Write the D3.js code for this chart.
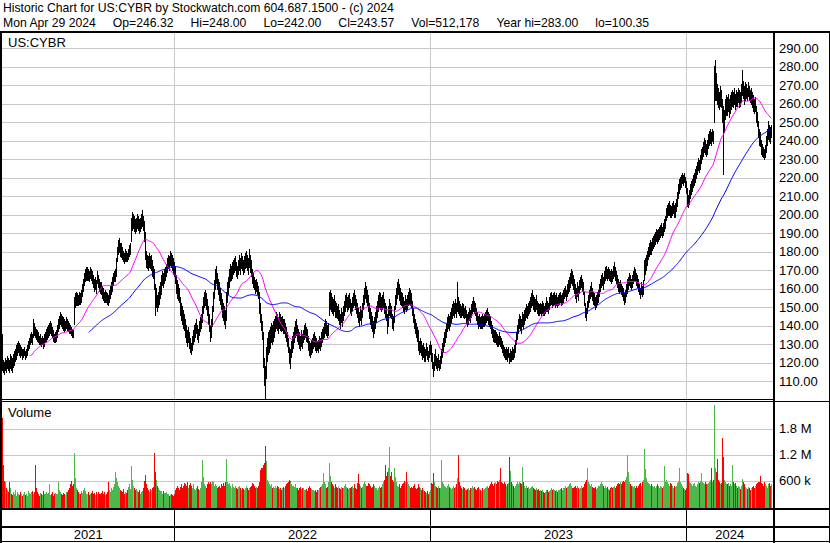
<!DOCTYPE html>
<html><head><meta charset="utf-8">
<script src="https://cdn.jsdelivr.net/npm/d3@7"></script>
<style>
html,body{margin:0;padding:0;background:#fff;}
svg{display:block;}
text{font-family:"Liberation Sans",Arial,sans-serif;fill:#000;}
</style></head><body>
<svg id="c" width="830" height="543"></svg>
<script>
// ---------- data ----------
const titleLine = "Historic Chart for US:CYBR by Stockwatch.com 604.687.1500 - (c) 2024";
const quoteFields = ["Mon Apr 29 2024", "Op=246.32", "Hi=248.00", "Lo=242.00", "Cl=243.57", "Vol=512,178", "Year hi=283.00", "lo=100.35"];
const symbol = "US:CYBR";
const startDate = "2021-04-29";
const endDate = "2024-04-29";
const priceTicks = [110,120,130,140,150,160,170,180,190,200,210,220,230,240,250,260,270,280,290];
const volTicks = [600000, 1200000, 1800000];
const volTickLabels = ["600 k", "1.2 M", "1.8 M"];
const maPeriods = [30, 90];

// daily highs (one value per weekday, Apr 29 2021 .. Apr 29 2024)
const hi = [142,135,
121,120,122,121,123, 122,121,124,123,122, 124,126,127,129,130, 131,130,129,128,127, 127,128,126,127,129,
131,133,135,136,135, 140,143,141,139,138, 137,136,134,135,133, 134,133,135,136,138, 139,140,141,142,141,
139,137,135,136,137, 140,143,145,147,146, 145,144,143,142,144, 143,142,141,140,139, 138,137,155,157,158,
157,156,158,157,159, 162,165,168,170,171, 171,170,169,171,170, 169,167,165,166,164, 168,169,167,165,163,
163,161,160,158,159, 158,157,156,159,161, 163,166,168,169,170, 176,182,186,187,184, 184,182,180,179,181,
180,179,181,183,184, 198,201,200,199,197, 198,200,199,197,198, 200,202,199,196,190, 180,178,177,179,177,
178,175,172,170,162, 160,156,158,161,163, 165,167,169,168,170, 171,173,176,178,177, 180,179,178,176,174,
172,167,164,162,160, 155,152,150,148,146, 143,140,137,139,136, 133,130,134,137,140, 141,143,140,138,142,
144,146,150,155,158, 159,157,154,150,146, 140,143,150,158,164, 170,172,168,165,163, 160,157,154,152,150,
148,152,158,163,166, 170,173,172,174,175, 176,177,174,172,175, 178,176,179,177,175, 177,179,180,178,176,
181,178,175,170,168, 166,164,165,163,161, 158,152,146,142,136, 122,118,128,133,136, 137,139,141,140,142,
143,145,147,146,144, 147,146,144,145,143, 143,141,139,136,133, 128,124,127,131,134, 136,139,142,143,140,
138,136,134,137,135, 137,140,141,139,138, 134,131,130,132,133, 135,136,134,133,131, 132,134,133,136,138,
139,141,143,142,140, 141,158,159,157,155, 154,156,153,152,150, 151,148,146,149,147, 150,153,156,157,155,
156,157,154,152,155, 157,159,158,156,154, 152,149,147,150,148, 152,156,160,163,161, 159,156,152,149,147,
145,142,144,147,150, 153,156,158,157,155, 156,158,154,152,150, 146,150,154,152,150, 146,145,150,156,160,
163,165,162,160,158, 157,155,153,156,154, 156,158,160,159,157, 153,149,146,143,141, 139,137,134,131,133,
131,129,130,128,127, 130,128,126,129,131, 129,125,120,124,127, 123,122,124,121,123, 127,130,133,136,138,
141,144,146,145,147, 149,151,153,152,154, 152,163,155,153,151, 150,152,151,149,150, 148,146,147,149,148,
151,153,155,153,152, 149,147,145,146,144, 145,146,144,145,146, 147,148,149,147,146, 145,142,140,138,137,
137,136,135,134,136, 134,133,131,129,128, 127,128,127,128,125, 127,126,128,127,129, 132,136,140,143,146,
145,143,147,146,148, 149,151,150,152,153, 155,157,159,156,155, 154,156,153,152,151, 152,151,153,152,150,
152,154,155,153,152, 155,157,158,156,157, 158,156,157,155,156, 157,158,156,157,159, 160,161,159,162,164,
166,168,170,169,167, 165,162,160,163,161, 164,166,167,165,163, 158,152,149,153,156, 159,161,163,160,158,
157,155,156,158,159, 162,165,167,168,166, 169,171,172,170,171, 170,169,168,170,169, 172,174,171,169,167,
165,163,164,162,161, 160,157,159,162,165, 166,168,167,165,167, 169,171,170,168,167, 165,162,160,163,161,
164,175,176,178,180, 182,184,186,185,187, 188,189,190,192,191, 192,193,194,195,193, 195,197,199,203,205,
206,207,205,204,206, 207,205,204,206,208, 212,216,219,220,221, 222,221,222,220,218, 214,210,213,216,218,
219,221,222,224,226, 228,230,229,232,235, 236,239,241,240,238, 240,243,245,246,244, 246,245,280,283,276,
270,268,266,269,267, 262,258,256,262,264, 263,265,262,264,266, 267,266,268,265,267, 266,268,265,267,266,
270,278,272,269,271, 270,268,271,269,267, 268,266,264,262,263, 258,255,250,246,244, 240,238,236,235,237,
242,246,250,248,247,
248];

// daily lows
const lo = [133,116,
115,114,116,115,117, 116,115,117,116,115, 118,119,121,122,124, 126,124,123,124,122, 123,124,122,123,124,
127,128,130,131,130, 134,137,135,134,133, 132,131,130,130,129, 130,128,129,131,132, 133,134,135,136,135,
134,132,131,131,132, 134,137,139,141,140, 139,138,137,138,139, 138,137,136,136,135, 134,134,141,150,151,
151,151,152,152,153, 156,159,162,164,165, 165,165,164,166,165, 163,161,159,160,158, 163,163,161,159,158,
157,155,154,153,153, 153,152,151,153,155, 157,159,162,164,164, 167,175,179,180,178, 177,176,175,174,175,
175,175,176,178,179, 186,192,193,191,190, 191,193,192,190,191, 193,194,192,186,176, 172,171,170,172,171,
170,167,166,160,146, 150,148,150,152,155, 157,160,162,161,163, 165,167,169,171,170, 173,172,170,168,167,
163,158,155,154,153, 146,143,141,139,138, 134,131,129,131,128, 126,125,127,130,132, 134,136,133,131,135,
137,139,142,147,150, 151,149,146,141,137, 132,134,140,148,155, 160,163,160,157,154, 152,149,145,143,141,
139,143,148,153,157, 161,164,165,166,168, 169,170,167,166,168, 170,168,171,170,168, 169,171,172,170,168,
172,169,167,163,161, 160,158,159,157,155, 147,142,138,133,118, 108,100,112,121,125, 126,128,131,130,132,
134,137,139,138,136, 139,138,137,138,136, 136,134,132,129,126, 120,117,119,123,126, 128,131,134,135,132,
130,128,127,129,128, 131,133,134,132,131, 127,124,123,125,126, 128,129,127,126,127, 126,128,127,129,131,
133,134,136,135,134, 135,146,149,148,147, 146,148,145,145,144, 143,141,139,142,140, 143,146,148,150,148,
149,150,147,146,148, 150,152,151,149,147, 145,142,140,143,141, 145,149,152,155,153, 151,148,144,141,139,
137,134,136,139,142, 145,148,150,149,148, 149,150,147,145,143, 136,140,146,145,144, 139,138,142,149,152,
155,157,154,152,151, 150,148,147,149,148, 149,151,152,151,150, 146,142,139,136,134, 132,129,127,125,126,
124,122,123,121,121, 124,122,121,123,125, 121,117,113,116,119, 117,116,118,116,117, 120,123,126,129,131,
134,137,139,138,140, 142,144,146,145,147, 145,148,147,146,145, 145,146,145,144,145, 142,140,141,143,142,
145,147,148,147,146, 143,141,139,140,139, 139,140,139,140,140, 141,142,143,141,140, 139,136,134,132,131,
131,130,129,129,130, 129,128,126,124,123, 122,122,121,123,120, 121,121,122,122,123, 126,130,133,136,139,
138,136,140,139,141, 143,145,144,146,147, 148,150,151,149,148, 148,149,147,146,146, 147,146,147,146,146,
147,148,149,148,147, 149,151,152,150,151, 152,150,151,150,151, 152,153,151,152,153, 155,156,154,156,158,
159,161,163,162,160, 158,155,153,156,154, 158,160,161,159,157, 151,145,143,147,150, 153,155,156,154,152,
151,149,150,152,153, 156,159,161,162,160, 163,165,166,165,166, 165,164,163,165,164, 166,167,165,163,161,
159,158,159,157,156, 154,152,153,156,158, 160,162,161,160,161, 163,165,164,162,161, 159,157,155,157,156,
157,165,168,170,173, 176,178,179,179,181, 182,183,184,186,185, 186,187,188,189,188, 189,191,193,197,199,
200,200,199,199,200, 201,199,199,200,202, 205,209,212,214,215, 217,216,218,215,212, 205,204,206,209,211,
213,215,216,218,220, 222,224,223,225,228, 230,232,234,233,232, 233,236,238,239,238, 240,239,250,262,262,
260,258,257,259,258, 250,222,245,252,254, 254,256,253,255,257, 259,258,260,257,259, 259,261,258,260,259,
261,265,263,260,262, 263,262,264,262,261, 260,258,256,255,256, 250,248,242,238,237, 233,232,231,230,231,
234,238,241,240,239,
242];

// daily volume, thousands of shares
const volK = [290,2050,
950,580,560,420,380, 330,560,420,300,260, 330,290,380,250,340, 300,270,340,290,250, 280,330,260,300,240,
350,310,280,330,360, 300,280,340,950,420, 330,290,250,310,280, 260,350,300,280,330, 290,310,520,270,300,
340,250,290,320,280, 300,560,380,330,290, 270,310,290,260,340, 330,380,420,520,600, 480,520,1240,650,420,
380,330,300,280,350, 310,380,420,360,300, 280,330,260,300,320, 350,290,310,270,330, 300,260,340,290,280,
310,350,290,330,270, 300,340,560,380,330, 420,380,450,520,800, 650,560,480,420,380, 360,330,400,300,340,
310,380,460,520,400, 940,620,480,420,380, 400,350,330,380,300, 330,360,420,600,720, 520,420,380,340,400,
380,420,460,1240,800, 620,480,430,390,360, 350,330,300,360,320, 310,340,300,280,250, 270,300,260,240,280,
380,430,470,420,390, 450,510,430,480,540, 520,470,570,430,500, 540,470,430,510,410, 390,430,470,400,370,
430,560,1070,680,520, 470,430,510,560,520, 570,510,600,560,480, 520,470,420,450,480, 430,510,470,540,480,
560,1100,650,570,510, 540,470,430,510,450, 420,470,430,400,450, 470,420,390,430,400, 370,420,470,430,390,
420,450,480,540,510, 470,430,450,420,480, 560,850,900,880,950, 1000,1400,1050,620,560, 520,470,510,430,450,
420,470,430,480,450, 400,430,390,420,450, 430,470,510,540,570, 620,600,560,510,470, 480,450,510,430,420,
390,420,450,400,430, 420,390,370,400,350, 420,470,430,400,390, 370,350,390,340,370, 390,420,450,470,510,
780,560,510,430,450, 560,1000,710,570,510, 470,430,510,450,420, 470,430,400,450,420, 430,470,510,450,420,
400,430,420,450,470, 430,470,510,430,400, 540,750,510,470,430, 450,510,560,520,470, 480,540,510,470,430,
450,510,470,430,420, 390,430,470,420,450, 510,560,620,950,710, 800,880,1370,710,800, 620,560,880,680,560,
480,450,510,430,470, 510,540,600,570,800, 560,510,470,430,450, 420,470,510,430,400, 430,470,510,450,420,
390,420,370,350,340, 310,350,300,330,370, 540,510,780,560,480, 450,430,470,420,430, 1070,560,510,470,450,
430,470,510,450,420, 400,430,470,420,450, 510,650,1190,570,470, 430,400,450,420,390, 370,400,430,390,420,
430,470,420,450,400, 390,420,450,400,370, 350,390,420,370,400, 420,450,480,430,470, 510,560,520,480,540,
560,520,590,560,620, 900,570,540,510,560, 520,470,510,540,1140, 820,570,510,470,430, 470,510,560,520,570,
540,510,920,560,480, 430,470,420,450,400, 420,450,480,430,400, 390,420,370,400,350, 370,350,390,340,320,
340,370,350,390,340, 350,390,420,370,400, 390,350,370,340,390, 370,400,430,390,420, 430,470,420,450,480,
510,540,470,430,420, 450,480,430,470,420, 400,430,470,420,450, 510,560,620,880,570, 520,470,510,450,430,
420,450,400,430,470, 480,510,560,510,470, 430,470,420,450,400, 390,420,450,400,430, 450,480,430,470,510,
540,510,570,520,560, 600,570,620,680,1190, 800,560,520,480,470, 450,480,430,470,420, 470,510,540,480,570,
620,1330,860,650,570, 540,510,470,520,480, 450,480,430,470,510, 470,430,480,450,420, 470,930,560,620,570,
520,480,540,510,470, 430,470,420,450,480, 540,600,900,570,520, 470,430,400,370,420, 780,760,570,540,510,
470,510,540,480,450, 510,560,540,600,780, 570,540,510,560,520, 510,540,570,620,900, 560,620,2350,900,800,
1100,620,560,510,540, 1580,1140,620,560,520, 510,540,470,520,480, 950,560,510,540,470, 430,470,420,450,400,
470,640,560,510,450, 430,400,450,420,390, 420,450,480,430,470, 510,540,570,560,700, 540,510,470,570,520,
470,430,510,540,480,
512];

// ---------- layout ----------
const W = 830, H = 543;
const plotL = 2, plotR = 773;
const topY = 32, priceBot = 399, volTop = 402, volBot = 509, rowMid = 527, rowBot = 541;
const gridColor = "#c8c8c8";
const upColor = "#4cb84c", downColor = "#ff0000", flatColor = "#a8a8a8";

const svg = d3.select("#c");
svg.append("rect").attr("width", W).attr("height", H).attr("fill", "#fff");

const N = Math.min(hi.length, lo.length, volK.length);
const parse = d3.utcParse("%Y-%m-%d");
const days = d3.utcDay.range(parse(startDate), d3.utcDay.offset(parse(endDate), 1))
  .filter(d => d.getUTCDay() % 6 !== 0).slice(0, N);

const data = d3.range(N).map(i => ({
  i, date: days[i], hi: hi[i], lo: lo[i], mid: (hi[i] + lo[i]) / 2, vol: volK[i] * 1000
}));

const x = d3.scaleLinear().domain([0, N - 1]).range([1, 771]);
const yP = d3.scaleLinear().domain([100, 300]).range([399.8, 29.8]);
const yV = d3.scaleLinear().domain([0, 600000]).range([506.5, 480.5]);

// clip paths
const defs = svg.append("defs");
defs.append("clipPath").attr("id", "pclip").append("rect")
  .attr("x", plotL).attr("y", topY + 1).attr("width", plotR - plotL).attr("height", priceBot - topY - 1);
defs.append("clipPath").attr("id", "vclip").append("rect")
  .attr("x", plotL).attr("y", volTop).attr("width", plotR - plotL).attr("height", volBot - volTop);

// year boundaries
const yearStarts = [];
for (let i = 1; i < N; i++) {
  if (days[i].getUTCFullYear() !== days[i - 1].getUTCFullYear()) yearStarts.push(i);
}
const boundaryX = yearStarts.map(i => Math.round((x(i - 1) + x(i)) / 2 - 1) + 0.5);

// price grid
const gP = svg.append("g").attr("shape-rendering", "crispEdges");
gP.selectAll("line.h").data(priceTicks).join("line")
  .attr("x1", plotL).attr("x2", plotR)
  .attr("y1", d => Math.round(yP(d)) + 0.5).attr("y2", d => Math.round(yP(d)) + 0.5)
  .attr("stroke", gridColor);
gP.selectAll("line.v").data(boundaryX).join("line")
  .attr("x1", d => d).attr("x2", d => d).attr("y1", topY).attr("y2", priceBot)
  .attr("stroke", gridColor);

// volume grid
const gVg = svg.append("g").attr("shape-rendering", "crispEdges");
gVg.selectAll("line.h").data(volTicks).join("line")
  .attr("x1", plotL).attr("x2", plotR)
  .attr("y1", d => Math.round(yV(d)) + 0.5).attr("y2", d => Math.round(yV(d)) + 0.5)
  .attr("stroke", gridColor);
gVg.selectAll("line.v").data(boundaryX).join("line")
  .attr("x1", d => d).attr("x2", d => d).attr("y1", volTop).attr("y2", volBot)
  .attr("stroke", gridColor);

// volume bars
svg.append("g").attr("clip-path", "url(#vclip)").attr("shape-rendering", "crispEdges")
  .selectAll("line").data(data).join("line")
  .attr("x1", d => Math.round(x(d.i)) + 0.5).attr("x2", d => Math.round(x(d.i)) + 0.5)
  .attr("y1", volBot).attr("y2", d => yV(d.vol))
  .attr("stroke", d => {
    if (d.i === 0) return downColor;
    const p = data[d.i - 1].mid;
    return d.mid > p ? upColor : (d.mid < p ? downColor : flatColor);
  });

// price bars
svg.append("g").attr("clip-path", "url(#pclip)").attr("shape-rendering", "crispEdges")
  .selectAll("rect").data(data).join("rect")
  .attr("x", d => Math.round(x(d.i)))
  .attr("width", 1)
  .attr("y", d => Math.round(yP(d.hi)) - 1)
  .attr("height", d => Math.round(yP(d.lo)) - Math.round(yP(d.hi)) + 2)
  .attr("fill", "#000");

// moving averages
const maColors = ["#ff00ff", "#0000ff"];
maPeriods.forEach((p, k) => {
  const pts = [];
  for (let i = p - 1; i < N; i++) {
    pts.push([i, d3.mean(data.slice(i - p + 1, i + 1), d => d.mid)]);
  }
  svg.append("path").attr("clip-path", "url(#pclip)")
    .attr("d", d3.line().x(d => x(d[0])).y(d => yP(d[1]))(pts))
    .attr("fill", "none").attr("stroke", maColors[k]).attr("stroke-width", 1);
});

// panel labels
svg.append("text").attr("x", 8).attr("y", 46.5).attr("font-size", 13).text(symbol);
svg.append("text").attr("x", 8).attr("y", 417).attr("font-size", 13).text("Volume");

// frame lines
const frame = svg.append("g").attr("shape-rendering", "crispEdges").attr("stroke", "#000");
frame.append("line").attr("x1", 0).attr("x2", W).attr("y1", topY).attr("y2", topY).attr("stroke-width", 2);
frame.append("line").attr("x1", 1).attr("x2", 1).attr("y1", topY).attr("y2", H).attr("stroke-width", 2);
frame.append("line").attr("x1", plotR + 1).attr("x2", plotR + 1).attr("y1", topY).attr("y2", H).attr("stroke-width", 2);
frame.append("line").attr("x1", W - 0.5).attr("x2", W - 0.5).attr("y1", topY).attr("y2", H);
frame.append("line").attr("x1", 0).attr("x2", plotR).attr("y1", priceBot + 0.5).attr("y2", priceBot + 0.5);
frame.append("line").attr("x1", 0).attr("x2", W).attr("y1", priceBot + 2.5).attr("y2", priceBot + 2.5);
frame.append("line").attr("x1", 0).attr("x2", W).attr("y1", volBot).attr("y2", volBot).attr("stroke-width", 2);
frame.append("line").attr("x1", 0).attr("x2", W).attr("y1", rowMid).attr("y2", rowMid).attr("stroke-width", 2);
frame.append("line").attr("x1", 0).attr("x2", W).attr("y1", rowBot + 0.5).attr("y2", rowBot + 0.5);
frame.selectAll("line.yb").data(boundaryX).join("line")
  .attr("x1", d => d).attr("x2", d => d).attr("y1", volBot).attr("y2", rowBot);

// year labels (centred in their cells)
const cellEdges = [plotL].concat(boundaryX, [plotR]);
const yearCells = d3.range(cellEdges.length - 1).map(k => ({
  year: k === 0 ? days[0].getUTCFullYear() : days[yearStarts[k - 1]].getUTCFullYear(),
  x0: cellEdges[k], x1: cellEdges[k + 1]
}));
svg.selectAll("text.yr").data(yearCells).join("text")
  .attr("x", d => (d.x0 + d.x1) / 2).attr("y", 539)
  .attr("text-anchor", "middle").attr("font-size", 13).text(d => d.year);

// right axis labels
const fmt = d3.format(".2f");
svg.selectAll("text.pt").data(priceTicks).join("text")
  .attr("x", 779).attr("y", d => yP(d)).attr("dy", "0.36em")
  .attr("font-size", 13).text(d => fmt(d));
svg.selectAll("text.vt").data(volTicks).join("text")
  .attr("x", 779).attr("y", d => yV(d)).attr("dy", "0.36em")
  .attr("font-size", 13).text((d, k) => volTickLabels[k]);

// header
svg.append("text").attr("x", 3).attr("y", 12).attr("font-size", 12.2).text(titleLine);
const q = svg.append("text").attr("x", 3).attr("y", 26.5).attr("font-size", 12.2);
let qx = 3;
quoteFields.forEach((f, k) => {
  const t = q.append("tspan").attr("x", qx).text(f);
  qx += t.node().getComputedTextLength() + 17;
});
</script>
</body></html>
